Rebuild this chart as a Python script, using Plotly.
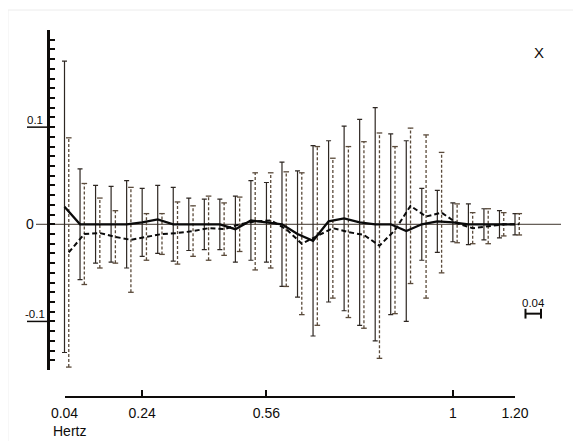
import plotly.graph_objects as go

# ---------------- data ----------------
freq = [0.04, 0.08, 0.12, 0.16, 0.20, 0.24, 0.28, 0.32, 0.36, 0.40,
        0.44, 0.48, 0.52, 0.56, 0.60, 0.64, 0.68, 0.72, 0.76, 0.80,
        0.84, 0.88, 0.92, 0.96, 1.00, 1.04, 1.08, 1.12, 1.16, 1.20]

solid_mean = [0.018, 0.000, 0.000, 0.000, 0.000, 0.002, 0.005, 0.000, 0.000, 0.000,
              0.000, -0.005, 0.004, 0.002, 0.000, -0.010, -0.017, 0.003, 0.006, 0.002,
              0.000, 0.000, -0.007, 0.000, 0.003, 0.002, 0.000, 0.000, 0.000, 0.000]
solid_err = [0.150, 0.057, 0.040, 0.039, 0.045, 0.035, 0.035, 0.038, 0.027, 0.026,
             0.026, 0.034, 0.041, 0.041, 0.064, 0.065, 0.098, 0.083, 0.095, 0.106,
             0.120, 0.093, 0.093, 0.037, 0.032, 0.020, 0.021, 0.016, 0.014, 0.011]

dashed_mean = [-0.029, -0.010, -0.009, -0.013, -0.016, -0.013, -0.010, -0.009, -0.007, -0.004,
               -0.005, 0.000, 0.003, 0.004, -0.005, -0.020, -0.012, -0.004, -0.008, -0.011,
               -0.022, -0.006, 0.019, 0.008, 0.012, 0.001, -0.004, -0.002, 0.000, 0.000]
dashed_err = [0.118, 0.052, 0.036, 0.027, 0.054, 0.024, 0.021, 0.032, 0.026, 0.033,
              0.027, 0.028, 0.050, 0.049, 0.059, 0.073, 0.092, 0.072, 0.088, 0.096,
              0.116, 0.086, 0.080, 0.084, 0.062, 0.020, 0.016, 0.018, 0.012, 0.011]

x_tick_vals = [0.04, 0.24, 0.56, 1.04, 1.20]
x_tick_text = ["0.04", "0.24", "0.56", "1", "1.20"]
y_label_vals = [0.1, 0.0, -0.1]
y_label_text = ["0.1", "0", "-0.1"]
scale_bar_len = 0.04
scale_bar_text = "0.04"
x_label = "Hertz"
panel_label = "X"

# ---------------- layout geometry ----------------
OFF = 8                      # page body margin of the browser
WIN_W, WIN_H = 581, 441
W, H = WIN_W - OFF, WIN_H - OFF
ML, MT = 50 - OFF, 30 - OFF
MB = H - (397 - OFF)
MR = W - (561 - OFF)
PW, PH = W - ML - MR, H - MT - MB
FONT = "Liberation Sans, Arial, Helvetica, sans-serif"
INK = "#0e0c0a"
BAR_SOLID = "#2e2722"
BAR_DASH = "#5a4a3a"
DASH_OFFSET = 0.011


def paper_x(p):
    return (p - OFF - ML) / PW


def paper_y(p):
    return (H + OFF - MB - p) / PH


x2_dom = [paper_x(64.5), paper_x(515)]
x_lo, x_hi = 0.04, 1.20
k = (x_hi - x_lo) / (x2_dom[1] - x2_dom[0])
x_range = [x_lo - x2_dom[0] * k, x_lo + (1 - x2_dom[0]) * k]
y_range = [-0.15, 0.2]
y_dom = [paper_y(370), 1]

dx = [f + DASH_OFFSET for f in freq]

fig = go.Figure()

# dummy trace for the displayed frequency axis (added first so it sits below)
fig.add_trace(go.Scatter(x=[x_lo, x_hi], y=[None, None], xaxis="x2", yaxis="y",
                         mode="lines", hoverinfo="skip", showlegend=False))

# solid error bars
fig.add_trace(go.Scatter(
    x=freq, y=solid_mean, mode="markers",
    marker=dict(size=1, color="rgba(0,0,0,0)"),
    error_y=dict(type="data", array=solid_err, visible=True,
                 thickness=1.2, width=2.5, color=BAR_SOLID),
    hoverinfo="skip", showlegend=False))

# dashed (dotted) error bars
vx, vy = [], []
for x, m, e in zip(dx, dashed_mean, dashed_err):
    vx += [x, x, None]
    vy += [m - e, m + e, None]
fig.add_trace(go.Scatter(
    x=vx, y=vy, mode="lines",
    line=dict(color=BAR_DASH, width=1.3, dash="3px,2px"),
    hoverinfo="skip", showlegend=False))
cx = dx + dx
cy = [m + e for m, e in zip(dashed_mean, dashed_err)] + \
     [m - e for m, e in zip(dashed_mean, dashed_err)]
fig.add_trace(go.Scatter(
    x=cx, y=cy, mode="markers",
    marker=dict(symbol="line-ew", size=4, line=dict(color=BAR_DASH, width=1.3)),
    hoverinfo="skip", showlegend=False))

# mean lines
fig.add_trace(go.Scatter(
    x=freq, y=solid_mean, mode="lines",
    line=dict(color="#0a0a0a", width=2.3),
    hoverinfo="skip", showlegend=False))
fig.add_trace(go.Scatter(
    x=dx, y=dashed_mean, mode="lines",
    line=dict(color="#0a0a0a", width=2.0, dash="5px,3px"),
    hoverinfo="skip", showlegend=False))

# scale bar
sb_x0, sb_y = 1.227, -0.092
fig.add_trace(go.Scatter(
    x=[sb_x0, sb_x0 + scale_bar_len], y=[sb_y, sb_y], mode="lines+markers",
    line=dict(color=INK, width=2),
    marker=dict(symbol="line-ns", size=7, line=dict(color=INK, width=2)),
    hoverinfo="skip", showlegend=False))

shapes = [
    dict(type="line", xref="paper", yref="y", x0=paper_x(36), x1=paper_x(561),
         y0=0, y1=0, line=dict(color="#3e342c", width=1), layer="below"),
]
for v in (0.1, -0.1):
    shapes.append(dict(type="line", xref="paper", yref="y", x0=paper_x(27), x1=paper_x(49),
                       y0=v, y1=v, line=dict(color=INK, width=1.5)))
# faint page edge from the scan
shapes.append(dict(type="line", xref="paper", yref="paper", x0=paper_x(8), x1=paper_x(581),
                   y0=paper_y(10), y1=paper_y(10), line=dict(color="#ececec", width=1)))
shapes.append(dict(type="line", xref="paper", yref="paper", x0=paper_x(8), x1=paper_x(8),
                   y0=paper_y(10), y1=paper_y(441), line=dict(color="#f0f0f0", width=1)))

annotations = []
for v, t in zip(y_label_vals, y_label_text):
    if v == 0:
        annotations.append(dict(x=paper_x(29.5), y=v, xref="paper", yref="y", text=t,
                                showarrow=False, xanchor="center", yanchor="middle",
                                font=dict(family=FONT, size=14, color=INK)))
    else:
        annotations.append(dict(x=paper_x(35), y=v, xref="paper", yref="y", text=t,
                                showarrow=False, xanchor="center", yanchor="bottom",
                                yshift=-1, font=dict(family=FONT, size=11.5, color=INK)))
annotations.append(dict(x=paper_x(539), y=paper_y(52), xref="paper", yref="paper",
                        text=panel_label, showarrow=False, xanchor="center", yanchor="middle",
                        font=dict(family=FONT, size=15, color=INK)))
annotations.append(dict(x=paper_x(51), y=paper_y(431), xref="paper", yref="paper",
                        text=x_label, showarrow=False, xanchor="left", yanchor="middle",
                        font=dict(family=FONT, size=14, color=INK)))
annotations.append(dict(x=sb_x0 + scale_bar_len / 2, y=sb_y, xref="x", yref="y",
                        text=scale_bar_text, showarrow=False, xanchor="center",
                        yanchor="bottom", yshift=3,
                        font=dict(family=FONT, size=11.5, color=INK)))

fig.update_layout(
    width=W, height=H,
    margin=dict(l=ML, r=MR, t=MT, b=MB, autoexpand=False),
    paper_bgcolor="white", plot_bgcolor="rgba(0,0,0,0)",
    showlegend=False,
    xaxis=dict(domain=[0, 1], range=x_range, visible=False, anchor="y"),
    xaxis2=dict(domain=x2_dom, range=[x_lo, x_hi], anchor="free", position=0,
                showline=True, linewidth=2, linecolor=INK,
                ticks="inside", ticklen=6, tickwidth=2, tickcolor=INK,
                tickmode="array", tickvals=x_tick_vals, ticktext=x_tick_text,
                ticklabelstandoff=3,
                tickfont=dict(family=FONT, size=14, color=INK),
                showgrid=False, zeroline=False),
    yaxis=dict(domain=y_dom, range=y_range, anchor="x",
               showline=True, linewidth=3, linecolor=INK,
               ticks="inside", tick0=0, dtick=0.01, ticklen=5, tickwidth=2, tickcolor=INK,
               showticklabels=False, showgrid=False, zeroline=False),
    shapes=shapes, annotations=annotations,
)

fig.write_html("out.html")
